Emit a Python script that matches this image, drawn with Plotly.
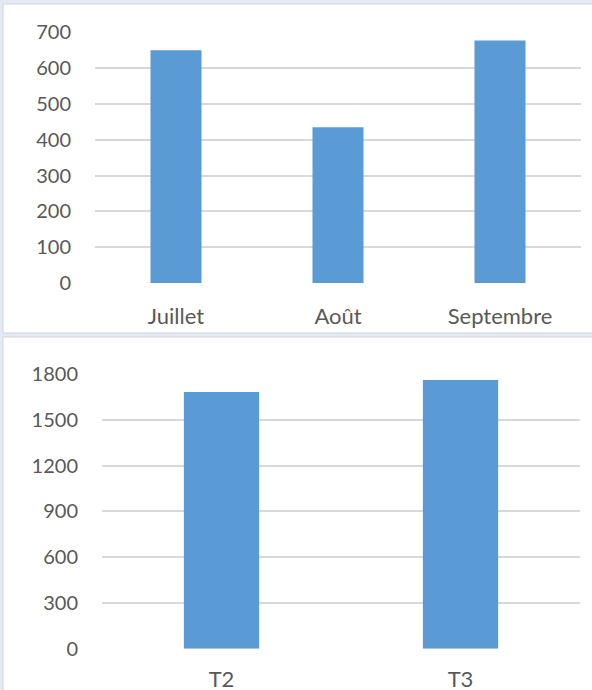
import plotly.graph_objects as go

# Data
months = ["Juillet", "Août", "Septembre"]
month_values = [650, 435, 677]
quarters = ["T2", "T3"]
quarter_values = [1682, 1761]

W, H = 592, 690
BAR = "#5b9bd5"
GRID = "#d9d9d9"
TXT = "#595959"
FONT = "Lato"

def px(x):
    return x / W

def py(y):
    return 1 - y / H

fig = go.Figure()
fig.add_trace(go.Bar(x=months, y=month_values, marker_color=BAR, marker_line_width=0,
                     xaxis="x", yaxis="y", hoverinfo="skip"))
fig.add_trace(go.Bar(x=quarters, y=quarter_values, marker_color=BAR, marker_line_width=0,
                     xaxis="x2", yaxis="y2", hoverinfo="skip"))

common_x = dict(showgrid=False, zeroline=False, showline=False, ticks="outside",
                tickcolor="rgba(0,0,0,0)", automargin=False,
                tickfont=dict(family=FONT, size=22, color=TXT))
common_y = dict(showgrid=True, gridcolor=GRID, gridwidth=1.5, zeroline=False,
                showline=False, ticks="outside", ticklen=19, tickcolor="rgba(0,0,0,0)",
                automargin=False,
                tickfont=dict(family=FONT, size=20, color=TXT))

fig.update_layout(
    template="none",
    width=W, height=H, margin=dict(l=0, r=0, t=0, b=0, pad=0),
    paper_bgcolor="#e3eaf3", plot_bgcolor="white",
    showlegend=False, bargap=0.685,
    xaxis=dict(domain=[px(95), px(581)], anchor="y", ticklen=14, **common_x),
    yaxis=dict(domain=[py(283), py(32.3)], range=[0, 700], dtick=100, anchor="x", **common_y),
    xaxis2=dict(domain=[px(102), px(580)], anchor="y2", ticklen=11, **common_x),
    yaxis2=dict(domain=[py(648.7), py(374)], range=[0, 1800], dtick=300, anchor="x2", **common_y),
    shapes=[
        dict(type="rect", xref="paper", yref="paper", x0=px(3), x1=px(600), y0=py(333), y1=py(4),
             fillcolor="white", line=dict(color="#d0d5db", width=1), layer="below"),
        dict(type="rect", xref="paper", yref="paper", x0=px(3), x1=px(600), y0=py(700), y1=py(337),
             fillcolor="white", line=dict(color="#d0d5db", width=1), layer="below"),
    ],
)

fig.write_html("out.html", config={"displayModeBar": False},
               post_script="document.body.style.margin='0';document.body.style.overflow='hidden';")
